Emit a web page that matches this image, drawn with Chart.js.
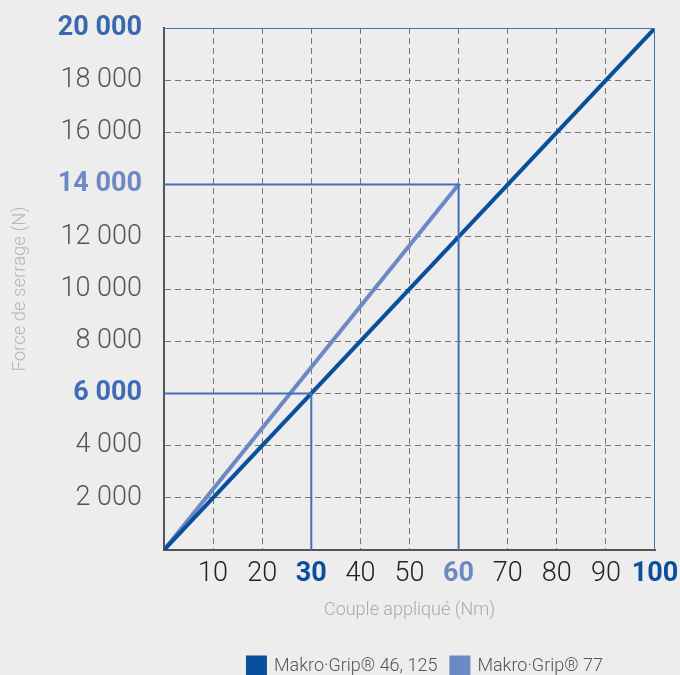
<!DOCTYPE html>
<html>
<head>
<meta charset="utf-8">
<script src="https://cdn.jsdelivr.net/npm/chart.js@4.4.1/dist/chart.umd.min.js"></script>
<style>
  html, body { margin: 0; padding: 0; background: #ededed; }
  #wrap { width: 680px; height: 675px; }
</style>
</head>
<body>
<div id="wrap"><canvas id="forceChart"></canvas></div>
<script>
// Series: clamping force vs applied torque
const seriesNames = ['Makro\u00b7Grip\u00ae 46, 125', 'Makro\u00b7Grip\u00ae 77'];
const grip46Torque = [0, 100];
const grip46Force = [0, 20000];
const grip77Torque = [0, 60];
const grip77Force = [0, 14000];

// Reference lines (torque -> force) drawn from the axes to the curves
const refTorque = [30, 60, 100];
const refForce = [6000, 14000, 20000];

// Highlighted tick labels
const xBold = { 30: '#0a4f9c', 60: '#6d89c5', 100: '#0a4f9c' };
const yBold = { 6000: '#3f6cb5', 14000: '#6d89c5', 20000: '#3a68b0' };

const dark = '#0a4f9c';
const light = '#6d89c5';
const refColor = '#4570b6';

function toPoints(xs, ys) {
    return xs.map((x, i) => ({ x: x, y: ys[i] }));
}

function fmt(v) {
    return String(v).replace(/\B(?=(\d{3})+(?!\d))/g, ' ');
}

// reference polylines: (0, f) -> (t, f) -> (t, 0)
const refSets = refTorque.map((t, i) => ({
    label: 'ref' + i,
    data: [{ x: 0, y: refForce[i] }, { x: t, y: refForce[i] }, { x: t, y: 0 }],
    borderColor: refColor,
    borderWidth: 2,
    pointRadius: 0,
    fill: false
}));

const legendShift = {
    id: 'legendShift',
    afterLayout(chart) {
        chart.legend.left += 16;
        chart.legend.right += 16;
    }
};

new Chart(document.getElementById('forceChart').getContext('2d'), {
    type: 'line',
    data: {
        datasets: refSets.concat([
            {
                label: seriesNames[0],
                data: toPoints(grip46Torque, grip46Force),
                borderColor: dark,
                backgroundColor: dark,
                borderWidth: 4,
                pointRadius: 0
            },
            {
                label: seriesNames[1],
                data: toPoints(grip77Torque, grip77Force),
                borderColor: light,
                backgroundColor: light,
                borderWidth: 4,
                pointRadius: 0
            }
        ])
    },
    plugins: [legendShift],
    options: {
        responsive: true,
        maintainAspectRatio: false,
        animation: false,
        layout: { padding: { top: 28, right: 25, left: 0, bottom: -10 } },
        plugins: {
            tooltip: { enabled: false },
            legend: {
                position: 'bottom',
                fullSize: false,
                labels: {
                    filter: item => seriesNames.includes(item.text),
                    boxWidth: 17,
                    boxHeight: 17,
                    padding: 14,
                    color: '#555',
                    font: { family: 'Roboto', size: 18, weight: 300 }
                }
            }
        },
        scales: {
            x: {
                type: 'linear',
                min: 0,
                max: 100,
                afterFit: s => { s.height = 93; s.paddingLeft = 0; s.paddingRight = 0; },
                grid: {
                    drawTicks: false,
                    color: c => (c.tick && (c.tick.value === 0 || c.tick.value === 100)) ? 'rgba(0,0,0,0)' : '#777',
                    lineWidth: 1
                },
                border: { display: true, color: '#555', width: 2, dash: [6, 4] },
                ticks: {
                    stepSize: 10,
                    padding: 8,
                    maxRotation: 0,
                    autoSkip: false,
                    callback: v => v === 0 ? '' : String(v),
                    color: c => (c.tick && xBold[c.tick.value]) || '#222',
                    font: c => ({
                        family: 'Roboto',
                        size: 27,
                        weight: (c.tick && xBold[c.tick.value]) ? 'bold' : 300
                    })
                },
                title: {
                    display: true,
                    text: 'Couple appliqu\u00e9 (Nm)',
                    color: '#aaa',
                    padding: { top: 0, bottom: 22 },
                    font: { family: 'Roboto', size: 18, weight: 300 }
                }
            },
            y: {
                min: 0,
                max: 20000,
                afterFit: s => { s.width = 164; s.paddingTop = 0; s.paddingBottom = 0; },
                grid: {
                    drawTicks: false,
                    color: c => (c.tick && (c.tick.value === 0 || c.tick.value === 20000)) ? 'rgba(0,0,0,0)' : '#777',
                    lineWidth: 1
                },
                border: { display: true, color: '#555', width: 2, dash: [6, 4] },
                ticks: {
                    stepSize: 2000,
                    padding: 22,
                    callback: v => v === 0 ? '' : fmt(v),
                    color: c => (c.tick && yBold[c.tick.value]) || '#555',
                    font: c => ({
                        family: 'Roboto',
                        size: 27,
                        weight: (c.tick && yBold[c.tick.value]) ? 'bold' : 300
                    })
                },
                title: {
                    display: true,
                    text: 'Force de serrage (N)',
                    color: '#b5b5b5',
                    padding: { top: 9, bottom: 0 },
                    font: { family: 'Roboto', size: 18.5, weight: 300 }
                }
            }
        }
    }
});
</script>
</body>
</html>
